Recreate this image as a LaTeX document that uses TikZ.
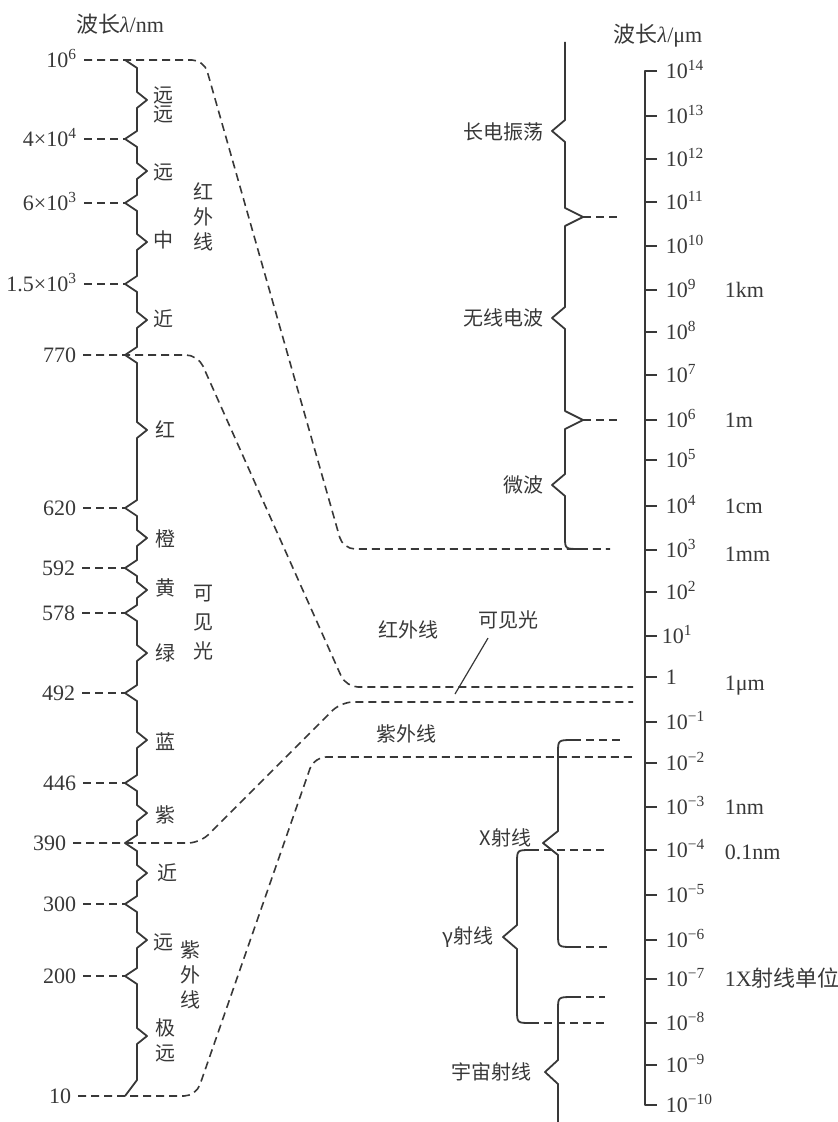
\documentclass[tikz,border=0pt]{standalone}
\usepackage{fontspec}
\setmainfont{Liberation Serif}
\newfontfamily\cjk{Noto Sans CJK SC}

\begin{document}
\begin{tikzpicture}[x=0.5pt, y=-0.5pt, line width=0.9pt, color=black!78,
  every node/.style={inner sep=1pt},
  num/.style={font=\fontsize{11}{13}\selectfont, text height=7.3pt, text depth=0pt},
  rlab/.style={num, anchor=west, xshift=3pt},
  cn/.style={font=\cjk\fontsize{10}{12.5}\selectfont, align=center},
  guide/.style={dash pattern=on 4pt off 2.5pt, line width=0.8pt},
  spine/.style={line join=round}]
\useasboundingbox (0,0) rectangle (838,1122);

% titles
\node[num] (titlenm) at (120,25) {{\cjk 波长}\textit{λ}/nm};
\node[num] (titleum) at (658,35) {{\cjk 波长}\textit{λ}/μm};

% left scale, wavelength in nm
\coordinate (t6) at (125,60);
\coordinate (t4e4) at (125,139);
\coordinate (t6e3) at (125,203);
\coordinate (t15e3) at (125,284);
\coordinate (t770) at (125,355);
\coordinate (t620) at (125,508);
\coordinate (t592) at (125,568);
\coordinate (t578) at (125,613);
\coordinate (t492) at (125,693);
\coordinate (t446) at (125,783);
\coordinate (t390) at (125,843);
\coordinate (t300) at (125,904);
\coordinate (t200) at (125,976);
\coordinate (t10) at (125,1096);

\node[num, anchor=east] (n6) at (80,60) {10\textsuperscript{6}};
\node[num, anchor=east] (n4e4) at (80,139) {4×10\textsuperscript{4}};
\node[num, anchor=east] (n6e3) at (80,203) {6×10\textsuperscript{3}};
\node[num, anchor=east] (n15e3) at (80,284) {1.5×10\textsuperscript{3}};
\node[num, anchor=east] (n770) at (79,355) {770};
\node[num, anchor=east] (n620) at (79,508) {620};
\node[num, anchor=east] (n592) at (78,568) {592};
\node[num, anchor=east] (n578) at (78,613) {578};
\node[num, anchor=east] (n492) at (78,693) {492};
\node[num, anchor=east] (n446) at (79,783) {446};
\node[num, anchor=east] (n390) at (69,843) {390};
\node[num, anchor=east] (n300) at (79,904) {300};
\node[num, anchor=east] (n200) at (79,976) {200};
\node[num, anchor=east] (n10) at (74,1096) {10};

\draw[guide, shorten <=2pt] (n4e4.east) -- (t4e4);
\draw[guide, shorten <=2pt] (n6e3.east) -- (t6e3);
\draw[guide, shorten <=2pt] (n15e3.east) -- (t15e3);
\draw[guide, shorten <=2pt] (n620.east) -- (t620);
\draw[guide, shorten <=2pt] (n592.east) -- (t592);
\draw[guide, shorten <=2pt] (n578.east) -- (t578);
\draw[guide, shorten <=2pt] (n492.east) -- (t492);
\draw[guide, shorten <=2pt] (n446.east) -- (t446);
\draw[guide, shorten <=2pt] (n300.east) -- (t300);
\draw[guide, shorten <=2pt] (n200.east) -- (t200);

% chain of braces
\draw[spine] (t6) -- (137,68) -- (137,92) -- (147,100) -- (137,108) -- (137,131)
  -- (t4e4) -- (137,147) -- (137,163) -- (147,171) -- (137,179) -- (137,195)
  -- (t6e3) -- (137,211) -- (137,234) -- (147,242) -- (137,250) -- (137,276)
  -- (t15e3) -- (137,292) -- (137,312) -- (147,320) -- (137,328) -- (137,347)
  -- (t770) -- (137,363) -- (137,422) -- (147,430) -- (137,438) -- (137,500)
  -- (t620) -- (137,516) -- (137,530) -- (147,538) -- (137,546) -- (137,560)
  -- (t592) -- (137,576) -- (137,582) -- (147,590) -- (137,598) -- (137,605)
  -- (t578) -- (137,621) -- (137,645) -- (147,653) -- (137,661) -- (137,685)
  -- (t492) -- (137,701) -- (137,732) -- (147,740) -- (137,748) -- (137,775)
  -- (t446) -- (137,791) -- (137,805) -- (147,813) -- (137,821) -- (137,835)
  -- (t390) -- (137,851) -- (137,865) -- (147,873) -- (137,881) -- (137,896)
  -- (t300) -- (137,912) -- (137,932) -- (147,940) -- (137,948) -- (137,968)
  -- (t200) -- (137,984) -- (137,1028) -- (147,1036) -- (137,1044) -- (137,1080)
  -- (t10);

% band names, left
\node[cn] (yy) at (163,105) {远\\[-3pt]远};
\node[cn] (yuan) at (163,172) {远};
\node[cn] (zhong) at (163,240) {中};
\node[cn] (jin) at (163,319) {近};
\node[cn] (irl) at (203,217) {红\\外\\线};
\node[cn] (hong) at (165,429) {红};
\node[cn] (cheng) at (165,539) {橙};
\node[cn] (huang) at (165,588) {黄};
\node[cn] (lv) at (165,653) {绿};
\node[cn] (visl) at (203,623) {可\\[2pt]见\\[2pt]光};
\node[cn] (lan) at (165,742) {蓝};
\node[cn] (zi) at (165,815) {紫};
\node[cn] (uvjin) at (167,873) {近};
\node[cn] (uvyuan) at (163,942) {远};
\node[cn] (uvl) at (190,975) {紫\\外\\线};
\node[cn] (jiyuan) at (165,1040) {极\\远};

% fan-in to the right scale
\draw[guide, rounded corners=6pt, shorten <=2pt] (n6.east) -- (204,60) -- (343,549) -- (610,549);
\draw[guide, rounded corners=6pt, shorten <=2pt] (n770.east) -- (198,355) -- (346,687) -- (633,687);
\draw[guide, rounded corners=6pt, shorten <=2pt] (n390.east) -- (200,843) -- (341,702) -- (633,702);
\draw[guide, rounded corners=6pt, shorten <=2pt] (n10.east) -- (196,1096) -- (314,757) -- (633,757);

\node[cn] (irc) at (408,630) {红外线};
\node[cn] (visc) at (508,620) {可见光};
\node[cn] (uvc) at (406,734) {紫外线};
\coordinate (visfoot) at (455,694);
\draw[line width=0.6pt] ([shift={(-10pt,-3pt)}]visc.south) -- (visfoot);

% right scale, wavelength in um
\draw[spine] (657,71) -- (645,71) -- (645,1105) -- (657,1105);
\node[rlab] (r14) at (657,71) {10\textsuperscript{14}};
\draw (645,116) -- (657,116) node[rlab] (r13) {10\textsuperscript{13}};
\draw (645,159) -- (657,159) node[rlab] (r12) {10\textsuperscript{12}};
\draw (645,202) -- (657,202) node[rlab] (r11) {10\textsuperscript{11}};
\draw (645,246) -- (657,246) node[rlab] (r10) {10\textsuperscript{10}};
\draw (645,290) -- (657,290) node[rlab] (r9) {10\textsuperscript{9}};
\draw (645,332) -- (657,332) node[rlab] (r8) {10\textsuperscript{8}};
\draw (645,375) -- (657,375) node[rlab] (r7) {10\textsuperscript{7}};
\draw (645,420) -- (657,420) node[rlab] (r6) {10\textsuperscript{6}};
\draw (645,460) -- (657,460) node[rlab] (r5) {10\textsuperscript{5}};
\draw (645,506) -- (657,506) node[rlab] (r4) {10\textsuperscript{4}};
\draw (645,550) -- (657,550) node[rlab] (r3) {10\textsuperscript{3}};
\draw (645,592) -- (657,592) node[rlab] (r2) {10\textsuperscript{2}};
\draw (645,636) -- (657,636) node[rlab, xshift=-2pt] (r1) {10\textsuperscript{1}};
\draw (645,677) -- (657,677) node[rlab] (r0) {1};
\draw (645,722) -- (657,722) node[rlab] (rm1) {10\textsuperscript{−1}};
\draw (645,763) -- (657,763) node[rlab] (rm2) {10\textsuperscript{−2}};
\draw (645,807) -- (657,807) node[rlab] (rm3) {10\textsuperscript{−3}};
\draw (645,850) -- (657,850) node[rlab] (rm4) {10\textsuperscript{−4}};
\draw (645,895) -- (657,895) node[rlab] (rm5) {10\textsuperscript{−5}};
\draw (645,940) -- (657,940) node[rlab] (rm6) {10\textsuperscript{−6}};
\draw (645,979) -- (657,979) node[rlab] (rm7) {10\textsuperscript{−7}};
\draw (645,1023) -- (657,1023) node[rlab] (rm8) {10\textsuperscript{−8}};
\draw (645,1065) -- (657,1065) node[rlab] (rm9) {10\textsuperscript{−9}};
\node[rlab] (rm10) at (657,1105) {10\textsuperscript{−10}};

\node[num, anchor=west] (ukm) at (722,290) {1km};
\node[num, anchor=west] (um) at (722,420) {1m};
\node[num, anchor=west] (ucm) at (722,506) {1cm};
\node[num, anchor=west] (umm) at (722,554) {1mm};
\node[num, anchor=west] (uum) at (722,683) {1μm};
\node[num, anchor=west] (unm) at (722,807) {1nm};
\node[num, anchor=west] (u01nm) at (722,852) {0.1nm};
\node[num, anchor=west] (uxu) at (722,979) {1X{\cjk 射线单位}};

% radio side braces
\coordinate (j1) at (583,217);
\coordinate (j2) at (583,420);
\draw[spine] (565,42) -- (565,120) -- (552,131) -- (565,142) -- (565,208)
  -- (j1) -- (565,226) -- (565,307) -- (552,318) -- (565,329) -- (565,411)
  -- (j2) -- (565,429) -- (565,474) -- (552,485) -- (565,496) -- (565,537)
  .. controls (565,549) .. (580,549);
\draw[guide] (j1) -- (618,217);
\draw[guide] (j2) -- (618,420);
\node[cn, anchor=east] (lw) at (546,132) {长电振荡};
\node[cn, anchor=east] (radio) at (546,318) {无线电波};
\node[cn, anchor=east] (micro) at (546,485) {微波};

% X, gamma and cosmic rays
\coordinate (xtop) at (573,740);
\coordinate (xbot) at (573,947);
\coordinate (gtop) at (531,850);
\coordinate (gbot) at (531,1023);
\coordinate (ctop) at (573,997);
\draw[spine] (xtop) .. controls (558,740) .. (558,753) -- (558,831) -- (543,843)
  -- (558,855) -- (558,934) .. controls (558,947) .. (xbot);
\draw[spine] (gtop) .. controls (517,850) .. (517,863) -- (517,925) -- (503,937)
  -- (517,949) -- (517,1010) .. controls (517,1023) .. (gbot);
\draw[spine] (ctop) .. controls (558,997) .. (558,1010) -- (558,1060) -- (545,1072)
  -- (558,1084) -- (558,1122);
\draw[guide] (xtop) -- (620,740);
\draw[guide] (xbot) -- (608,947);
\draw[guide] (gtop) -- (606,850);
\draw[guide] (gbot) -- (605,1023);
\draw[guide] (ctop) -- (605,997);
\node[cn, anchor=east] (xray) at (534,838) {X射线};
\node[cn, anchor=east] (gray) at (496,937) {γ射线};
\node[cn, anchor=east] (cosmic) at (534,1072) {宇宙射线};
\end{tikzpicture}
\end{document}
